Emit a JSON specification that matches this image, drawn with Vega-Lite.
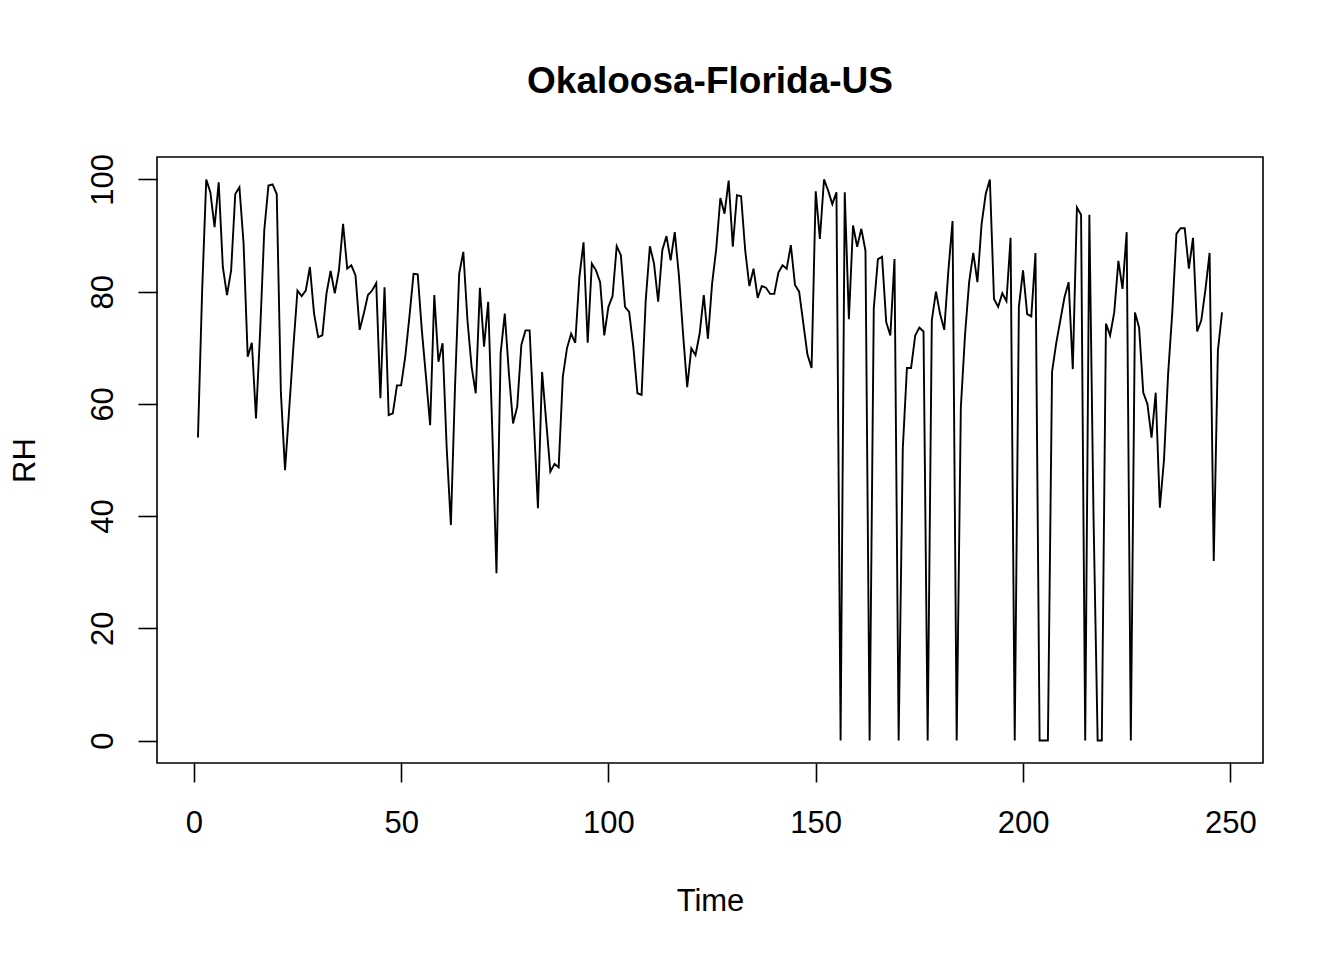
{
  "$schema": "https://vega.github.io/schema/vega-lite/v6.json",
  "width": 1106,
  "height": 606,
  "autosize": "none",
  "padding": {"left": 157, "top": 157, "right": 81, "bottom": 197},
  "background": "white",
  "title": {
    "text": "Okaloosa-Florida-US",
    "font": "Liberation Sans",
    "fontSize": 37,
    "fontWeight": "bold",
    "color": "black",
    "anchor": "middle",
    "frame": "group",
    "baseline": "alphabetic",
    "offset": 24
  },
  "config": {
    "view": {"stroke": "black", "strokeWidth": 1.6},
    "axis": {
      "grid": false,
      "domain": false,
      "tickColor": "black",
      "tickWidth": 1.6,
      "tickSize": 19,
      "labelFont": "Liberation Sans",
      "labelFontSize": 31,
      "labelColor": "black",
      "titleFont": "Liberation Sans",
      "titleFontSize": 31,
      "titleFontWeight": "normal",
      "titleColor": "black"
    }
  },
  "data": {
    "values": [
      {"t": 1, "rh": 54}, {"t": 2, "rh": 80}, {"t": 3, "rh": 100}, {"t": 4, "rh": 97.7},
      {"t": 5, "rh": 91.5}, {"t": 6, "rh": 99.5}, {"t": 7, "rh": 84.4}, {"t": 8, "rh": 79.4},
      {"t": 9, "rh": 83.8}, {"t": 10, "rh": 97.4}, {"t": 11, "rh": 98.6}, {"t": 12, "rh": 88.6},
      {"t": 13, "rh": 68.4}, {"t": 14, "rh": 70.9}, {"t": 15, "rh": 57.4}, {"t": 16, "rh": 73},
      {"t": 17, "rh": 91}, {"t": 18, "rh": 98.9}, {"t": 19, "rh": 99.1}, {"t": 20, "rh": 97.4},
      {"t": 21, "rh": 62}, {"t": 22, "rh": 48.2}, {"t": 23, "rh": 59}, {"t": 24, "rh": 70},
      {"t": 25, "rh": 80.2}, {"t": 26, "rh": 79.2}, {"t": 27, "rh": 80.2}, {"t": 28, "rh": 84.4},
      {"t": 29, "rh": 76.1}, {"t": 30, "rh": 71.9}, {"t": 31, "rh": 72.2}, {"t": 32, "rh": 79.7},
      {"t": 33, "rh": 83.7}, {"t": 34, "rh": 79.7}, {"t": 35, "rh": 83.8}, {"t": 36, "rh": 92.1},
      {"t": 37, "rh": 84.1}, {"t": 38, "rh": 84.7}, {"t": 39, "rh": 82.9}, {"t": 40, "rh": 73.2},
      {"t": 41, "rh": 76.1}, {"t": 42, "rh": 79.4}, {"t": 43, "rh": 80.2}, {"t": 44, "rh": 81.5},
      {"t": 45, "rh": 61}, {"t": 46, "rh": 80.8}, {"t": 47, "rh": 58}, {"t": 48, "rh": 58.3},
      {"t": 49, "rh": 63.3}, {"t": 50, "rh": 63.3}, {"t": 51, "rh": 68.4}, {"t": 52, "rh": 75.5},
      {"t": 53, "rh": 83.2}, {"t": 54, "rh": 83.1}, {"t": 55, "rh": 73.1}, {"t": 56, "rh": 64.8},
      {"t": 57, "rh": 56.2}, {"t": 58, "rh": 79.4}, {"t": 59, "rh": 67.5}, {"t": 60, "rh": 70.8},
      {"t": 61, "rh": 52}, {"t": 62, "rh": 38.4}, {"t": 63, "rh": 63}, {"t": 64, "rh": 83.2},
      {"t": 65, "rh": 87.1}, {"t": 66, "rh": 74.9}, {"t": 67, "rh": 66.6}, {"t": 68, "rh": 61.9},
      {"t": 69, "rh": 80.7}, {"t": 70, "rh": 70.2}, {"t": 71, "rh": 78.2}, {"t": 72, "rh": 55},
      {"t": 73, "rh": 29.8}, {"t": 74, "rh": 69}, {"t": 75, "rh": 76.1}, {"t": 76, "rh": 65.4},
      {"t": 77, "rh": 56.5}, {"t": 78, "rh": 59.5}, {"t": 79, "rh": 70.5}, {"t": 80, "rh": 73.1},
      {"t": 81, "rh": 73.1}, {"t": 82, "rh": 57}, {"t": 83, "rh": 41.4}, {"t": 84, "rh": 65.7},
      {"t": 85, "rh": 56.8}, {"t": 86, "rh": 47.9}, {"t": 87, "rh": 49.3}, {"t": 88, "rh": 48.7},
      {"t": 89, "rh": 64.8}, {"t": 90, "rh": 69.9}, {"t": 91, "rh": 72.5}, {"t": 92, "rh": 70.9},
      {"t": 93, "rh": 82.6}, {"t": 94, "rh": 88.8}, {"t": 95, "rh": 70.9}, {"t": 96, "rh": 85},
      {"t": 97, "rh": 83.8}, {"t": 98, "rh": 81.7}, {"t": 99, "rh": 72.2}, {"t": 100, "rh": 77.3},
      {"t": 101, "rh": 79.2}, {"t": 102, "rh": 88.1}, {"t": 103, "rh": 86.5}, {"t": 104, "rh": 77.3},
      {"t": 105, "rh": 76.4}, {"t": 106, "rh": 70.2}, {"t": 107, "rh": 61.9}, {"t": 108, "rh": 61.6},
      {"t": 109, "rh": 78.5}, {"t": 110, "rh": 88.1}, {"t": 111, "rh": 85}, {"t": 112, "rh": 78.2},
      {"t": 113, "rh": 87.4}, {"t": 114, "rh": 89.9}, {"t": 115, "rh": 85.6}, {"t": 116, "rh": 90.6},
      {"t": 117, "rh": 82.9}, {"t": 118, "rh": 72.5}, {"t": 119, "rh": 63}, {"t": 120, "rh": 69.9},
      {"t": 121, "rh": 68.7}, {"t": 122, "rh": 72.5}, {"t": 123, "rh": 79.4}, {"t": 124, "rh": 71.6},
      {"t": 125, "rh": 81.4}, {"t": 126, "rh": 87.6}, {"t": 127, "rh": 96.7}, {"t": 128, "rh": 93.9},
      {"t": 129, "rh": 99.8}, {"t": 130, "rh": 88}, {"t": 131, "rh": 97.2}, {"t": 132, "rh": 97},
      {"t": 133, "rh": 87.3}, {"t": 134, "rh": 81}, {"t": 135, "rh": 84.1}, {"t": 136, "rh": 78.9},
      {"t": 137, "rh": 81}, {"t": 138, "rh": 80.7}, {"t": 139, "rh": 79.6}, {"t": 140, "rh": 79.6},
      {"t": 141, "rh": 83.4}, {"t": 142, "rh": 84.7}, {"t": 143, "rh": 84.1}, {"t": 144, "rh": 88.3},
      {"t": 145, "rh": 81.2}, {"t": 146, "rh": 80}, {"t": 147, "rh": 74.4}, {"t": 148, "rh": 68.8},
      {"t": 149, "rh": 66.4}, {"t": 150, "rh": 97.9}, {"t": 151, "rh": 89.4}, {"t": 152, "rh": 100},
      {"t": 153, "rh": 98}, {"t": 154, "rh": 95.6}, {"t": 155, "rh": 97.7}, {"t": 156, "rh": 0},
      {"t": 157, "rh": 97.7}, {"t": 158, "rh": 75.1}, {"t": 159, "rh": 91.8}, {"t": 160, "rh": 88},
      {"t": 161, "rh": 91.2}, {"t": 162, "rh": 87.3}, {"t": 163, "rh": 0}, {"t": 164, "rh": 77},
      {"t": 165, "rh": 85.8}, {"t": 166, "rh": 86.2}, {"t": 167, "rh": 74.6}, {"t": 168, "rh": 72.2},
      {"t": 169, "rh": 85.8}, {"t": 170, "rh": 0}, {"t": 171, "rh": 52}, {"t": 172, "rh": 66.4},
      {"t": 173, "rh": 66.4}, {"t": 174, "rh": 72.2}, {"t": 175, "rh": 73.6}, {"t": 176, "rh": 72.9},
      {"t": 177, "rh": 0}, {"t": 178, "rh": 74.9}, {"t": 179, "rh": 80}, {"t": 180, "rh": 76},
      {"t": 181, "rh": 73.2}, {"t": 182, "rh": 83.8}, {"t": 183, "rh": 92.6}, {"t": 184, "rh": 0},
      {"t": 185, "rh": 59.3}, {"t": 186, "rh": 72.2}, {"t": 187, "rh": 81.7}, {"t": 188, "rh": 86.9},
      {"t": 189, "rh": 81.7}, {"t": 190, "rh": 92}, {"t": 191, "rh": 97.4}, {"t": 192, "rh": 100},
      {"t": 193, "rh": 78.7}, {"t": 194, "rh": 77.3}, {"t": 195, "rh": 79.7}, {"t": 196, "rh": 78.3},
      {"t": 197, "rh": 89.6}, {"t": 198, "rh": 0}, {"t": 199, "rh": 77.3}, {"t": 200, "rh": 83.8},
      {"t": 201, "rh": 76}, {"t": 202, "rh": 75.6}, {"t": 203, "rh": 86.9}, {"t": 204, "rh": 0},
      {"t": 205, "rh": 0}, {"t": 206, "rh": 0}, {"t": 207, "rh": 65.7}, {"t": 208, "rh": 70.8},
      {"t": 209, "rh": 74.9}, {"t": 210, "rh": 79}, {"t": 211, "rh": 81.7}, {"t": 212, "rh": 66.2},
      {"t": 213, "rh": 95}, {"t": 214, "rh": 93.7}, {"t": 215, "rh": 0}, {"t": 216, "rh": 93.7},
      {"t": 217, "rh": 40}, {"t": 218, "rh": 0}, {"t": 219, "rh": 0}, {"t": 220, "rh": 74.3},
      {"t": 221, "rh": 72.2}, {"t": 222, "rh": 76.3}, {"t": 223, "rh": 85.5}, {"t": 224, "rh": 80.5},
      {"t": 225, "rh": 90.6}, {"t": 226, "rh": 0}, {"t": 227, "rh": 76.3}, {"t": 228, "rh": 73.6},
      {"t": 229, "rh": 62}, {"t": 230, "rh": 60}, {"t": 231, "rh": 54}, {"t": 232, "rh": 62},
      {"t": 233, "rh": 41.5}, {"t": 234, "rh": 50}, {"t": 235, "rh": 65.4}, {"t": 236, "rh": 76.3},
      {"t": 237, "rh": 90.3}, {"t": 238, "rh": 91.3}, {"t": 239, "rh": 91.3}, {"t": 240, "rh": 84.1},
      {"t": 241, "rh": 89.6}, {"t": 242, "rh": 72.9}, {"t": 243, "rh": 74.9}, {"t": 244, "rh": 80.4},
      {"t": 245, "rh": 86.9}, {"t": 246, "rh": 32}, {"t": 247, "rh": 69.5}, {"t": 248, "rh": 76.3}
    ]
  },
  "mark": {"type": "line", "color": "black", "strokeWidth": 1.9, "clip": true},
  "encoding": {
    "x": {
      "field": "t",
      "type": "quantitative",
      "title": "Time",
      "scale": {"domain": [-8.88, 257.88], "nice": false, "zero": false},
      "axis": {"values": [0, 50, 100, 150, 200, 250], "labelPadding": 26, "titlePadding": 48, "labelFlush": false}
    },
    "y": {
      "field": "rh",
      "type": "quantitative",
      "title": "RH",
      "scale": {"domain": [-4, 104], "nice": false, "zero": false},
      "axis": {
        "values": [0, 20, 40, 60, 80, 100],
        "labelAngle": -90,
        "labelAlign": "center",
        "labelBaseline": "alphabetic",
        "labelPadding": 26,
        "labelFlush": false,
        "titlePadding": 46
      }
    }
  }
}
